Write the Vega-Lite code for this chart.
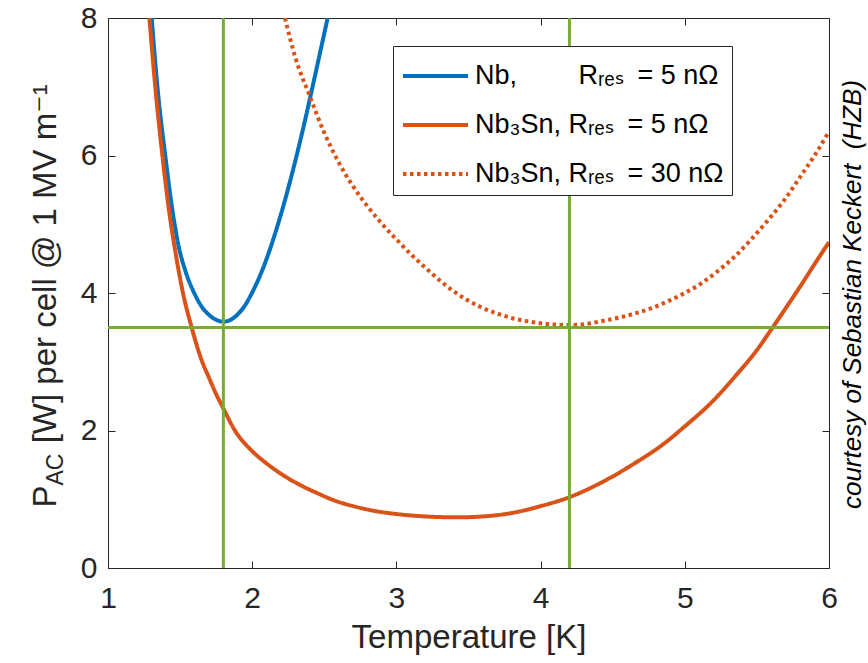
{
  "$schema": "https://vega.github.io/schema/vega-lite/v6.json",
  "width": 721,
  "height": 550,
  "autosize": {"type": "none"},
  "padding": {"left": 108, "top": 18, "right": 39, "bottom": 95},
  "background": "white",
  "config": {
    "font": "Liberation Sans, Arial, DejaVu Sans, sans-serif",
    "view": {"stroke": "#262626", "strokeWidth": 1},
    "axis": {"grid": false, "domain": false, "tickColor": "#262626", "tickSize": -7, "tickWidth": 1, "labelColor": "#262626", "titleColor": "#262626", "titleFontWeight": "normal", "labelFlush": false, "labelOverlap": false},
    "legend": {
      "orient": "none", "legendX": 285, "legendY": 28, "title": null,
      "symbolType": "M-1,0H2.25", "symbolSize": 1600, "symbolStrokeWidth": 4,
      "labelFontSize": 27, "labelColor": "#000000", "labelOffset": 30, "labelLimit": 500,
      "rowPadding": 14, "padding": 8, "strokeColor": "#262626", "fillColor": "white"
    }
  },
  "datasets": {
    "curves": [
      {"T": 1.303, "P": 8.0, "s": "Nb,\u2002\u2002\u2002\u2002 R\u1d63\u2091\u209b\u2009 = 5 n\u03a9"},
      {"T": 1.345, "P": 6.95, "s": "Nb,\u2002\u2002\u2002\u2002 R\u1d63\u2091\u209b\u2009 = 5 n\u03a9"},
      {"T": 1.40, "P": 5.95, "s": "Nb,\u2002\u2002\u2002\u2002 R\u1d63\u2091\u209b\u2009 = 5 n\u03a9"},
      {"T": 1.44, "P": 5.3, "s": "Nb,\u2002\u2002\u2002\u2002 R\u1d63\u2091\u209b\u2009 = 5 n\u03a9"},
      {"T": 1.486, "P": 4.72, "s": "Nb,\u2002\u2002\u2002\u2002 R\u1d63\u2091\u209b\u2009 = 5 n\u03a9"},
      {"T": 1.54, "P": 4.3, "s": "Nb,\u2002\u2002\u2002\u2002 R\u1d63\u2091\u209b\u2009 = 5 n\u03a9"},
      {"T": 1.60, "P": 3.99, "s": "Nb,\u2002\u2002\u2002\u2002 R\u1d63\u2091\u209b\u2009 = 5 n\u03a9"},
      {"T": 1.65, "P": 3.8, "s": "Nb,\u2002\u2002\u2002\u2002 R\u1d63\u2091\u209b\u2009 = 5 n\u03a9"},
      {"T": 1.707, "P": 3.67, "s": "Nb,\u2002\u2002\u2002\u2002 R\u1d63\u2091\u209b\u2009 = 5 n\u03a9"},
      {"T": 1.75, "P": 3.61, "s": "Nb,\u2002\u2002\u2002\u2002 R\u1d63\u2091\u209b\u2009 = 5 n\u03a9"},
      {"T": 1.80, "P": 3.583, "s": "Nb,\u2002\u2002\u2002\u2002 R\u1d63\u2091\u209b\u2009 = 5 n\u03a9"},
      {"T": 1.85, "P": 3.61, "s": "Nb,\u2002\u2002\u2002\u2002 R\u1d63\u2091\u209b\u2009 = 5 n\u03a9"},
      {"T": 1.892, "P": 3.675, "s": "Nb,\u2002\u2002\u2002\u2002 R\u1d63\u2091\u209b\u2009 = 5 n\u03a9"},
      {"T": 1.95, "P": 3.82, "s": "Nb,\u2002\u2002\u2002\u2002 R\u1d63\u2091\u209b\u2009 = 5 n\u03a9"},
      {"T": 1.997, "P": 3.996, "s": "Nb,\u2002\u2002\u2002\u2002 R\u1d63\u2091\u209b\u2009 = 5 n\u03a9"},
      {"T": 2.077, "P": 4.37, "s": "Nb,\u2002\u2002\u2002\u2002 R\u1d63\u2091\u209b\u2009 = 5 n\u03a9"},
      {"T": 2.17, "P": 4.94, "s": "Nb,\u2002\u2002\u2002\u2002 R\u1d63\u2091\u209b\u2009 = 5 n\u03a9"},
      {"T": 2.262, "P": 5.62, "s": "Nb,\u2002\u2002\u2002\u2002 R\u1d63\u2091\u209b\u2009 = 5 n\u03a9"},
      {"T": 2.354, "P": 6.40, "s": "Nb,\u2002\u2002\u2002\u2002 R\u1d63\u2091\u209b\u2009 = 5 n\u03a9"},
      {"T": 2.447, "P": 7.27, "s": "Nb,\u2002\u2002\u2002\u2002 R\u1d63\u2091\u209b\u2009 = 5 n\u03a9"},
      {"T": 2.523, "P": 8.0, "s": "Nb,\u2002\u2002\u2002\u2002 R\u1d63\u2091\u209b\u2009 = 5 n\u03a9"},

      {"T": 1.287, "P": 8.0, "s": "Nb\u2083Sn, R\u1d63\u2091\u209b\u2009 = 5 n\u03a9"},
      {"T": 1.33, "P": 6.95, "s": "Nb\u2083Sn, R\u1d63\u2091\u209b\u2009 = 5 n\u03a9"},
      {"T": 1.38, "P": 5.95, "s": "Nb\u2083Sn, R\u1d63\u2091\u209b\u2009 = 5 n\u03a9"},
      {"T": 1.42, "P": 5.25, "s": "Nb\u2083Sn, R\u1d63\u2091\u209b\u2009 = 5 n\u03a9"},
      {"T": 1.465, "P": 4.63, "s": "Nb\u2083Sn, R\u1d63\u2091\u209b\u2009 = 5 n\u03a9"},
      {"T": 1.52, "P": 4.0, "s": "Nb\u2083Sn, R\u1d63\u2091\u209b\u2009 = 5 n\u03a9"},
      {"T": 1.58, "P": 3.5, "s": "Nb\u2083Sn, R\u1d63\u2091\u209b\u2009 = 5 n\u03a9"},
      {"T": 1.65, "P": 3.02, "s": "Nb\u2083Sn, R\u1d63\u2091\u209b\u2009 = 5 n\u03a9"},
      {"T": 1.70, "P": 2.77, "s": "Nb\u2083Sn, R\u1d63\u2091\u209b\u2009 = 5 n\u03a9"},
      {"T": 1.75, "P": 2.53, "s": "Nb\u2083Sn, R\u1d63\u2091\u209b\u2009 = 5 n\u03a9"},
      {"T": 1.80, "P": 2.32, "s": "Nb\u2083Sn, R\u1d63\u2091\u209b\u2009 = 5 n\u03a9"},
      {"T": 1.88, "P": 2.0, "s": "Nb\u2083Sn, R\u1d63\u2091\u209b\u2009 = 5 n\u03a9"},
      {"T": 2.0, "P": 1.70, "s": "Nb\u2083Sn, R\u1d63\u2091\u209b\u2009 = 5 n\u03a9"},
      {"T": 2.1, "P": 1.52, "s": "Nb\u2083Sn, R\u1d63\u2091\u209b\u2009 = 5 n\u03a9"},
      {"T": 2.2, "P": 1.37, "s": "Nb\u2083Sn, R\u1d63\u2091\u209b\u2009 = 5 n\u03a9"},
      {"T": 2.33, "P": 1.21, "s": "Nb\u2083Sn, R\u1d63\u2091\u209b\u2009 = 5 n\u03a9"},
      {"T": 2.45, "P": 1.09, "s": "Nb\u2083Sn, R\u1d63\u2091\u209b\u2009 = 5 n\u03a9"},
      {"T": 2.56, "P": 0.99, "s": "Nb\u2083Sn, R\u1d63\u2091\u209b\u2009 = 5 n\u03a9"},
      {"T": 2.7, "P": 0.9, "s": "Nb\u2083Sn, R\u1d63\u2091\u209b\u2009 = 5 n\u03a9"},
      {"T": 2.85, "P": 0.83, "s": "Nb\u2083Sn, R\u1d63\u2091\u209b\u2009 = 5 n\u03a9"},
      {"T": 3.0, "P": 0.785, "s": "Nb\u2083Sn, R\u1d63\u2091\u209b\u2009 = 5 n\u03a9"},
      {"T": 3.2, "P": 0.75, "s": "Nb\u2083Sn, R\u1d63\u2091\u209b\u2009 = 5 n\u03a9"},
      {"T": 3.42, "P": 0.737, "s": "Nb\u2083Sn, R\u1d63\u2091\u209b\u2009 = 5 n\u03a9"},
      {"T": 3.6, "P": 0.75, "s": "Nb\u2083Sn, R\u1d63\u2091\u209b\u2009 = 5 n\u03a9"},
      {"T": 3.8, "P": 0.8, "s": "Nb\u2083Sn, R\u1d63\u2091\u209b\u2009 = 5 n\u03a9"},
      {"T": 4.0, "P": 0.9, "s": "Nb\u2083Sn, R\u1d63\u2091\u209b\u2009 = 5 n\u03a9"},
      {"T": 4.2, "P": 1.03, "s": "Nb\u2083Sn, R\u1d63\u2091\u209b\u2009 = 5 n\u03a9"},
      {"T": 4.4, "P": 1.22, "s": "Nb\u2083Sn, R\u1d63\u2091\u209b\u2009 = 5 n\u03a9"},
      {"T": 4.65, "P": 1.52, "s": "Nb\u2083Sn, R\u1d63\u2091\u209b\u2009 = 5 n\u03a9"},
      {"T": 4.85, "P": 1.8, "s": "Nb\u2083Sn, R\u1d63\u2091\u209b\u2009 = 5 n\u03a9"},
      {"T": 5.0, "P": 2.06, "s": "Nb\u2083Sn, R\u1d63\u2091\u209b\u2009 = 5 n\u03a9"},
      {"T": 5.2, "P": 2.44, "s": "Nb\u2083Sn, R\u1d63\u2091\u209b\u2009 = 5 n\u03a9"},
      {"T": 5.346, "P": 2.78, "s": "Nb\u2083Sn, R\u1d63\u2091\u209b\u2009 = 5 n\u03a9"},
      {"T": 5.5, "P": 3.17, "s": "Nb\u2083Sn, R\u1d63\u2091\u209b\u2009 = 5 n\u03a9"},
      {"T": 5.6, "P": 3.47, "s": "Nb\u2083Sn, R\u1d63\u2091\u209b\u2009 = 5 n\u03a9"},
      {"T": 5.7, "P": 3.78, "s": "Nb\u2083Sn, R\u1d63\u2091\u209b\u2009 = 5 n\u03a9"},
      {"T": 5.808, "P": 4.12, "s": "Nb\u2083Sn, R\u1d63\u2091\u209b\u2009 = 5 n\u03a9"},
      {"T": 5.9, "P": 4.42, "s": "Nb\u2083Sn, R\u1d63\u2091\u209b\u2009 = 5 n\u03a9"},
      {"T": 6.0, "P": 4.74, "s": "Nb\u2083Sn, R\u1d63\u2091\u209b\u2009 = 5 n\u03a9"},

      {"T": 2.227, "P": 8.0, "s": "Nb\u2083Sn, R\u1d63\u2091\u209b\u2009 = 30 n\u03a9"},
      {"T": 2.30, "P": 7.42, "s": "Nb\u2083Sn, R\u1d63\u2091\u209b\u2009 = 30 n\u03a9"},
      {"T": 2.40, "P": 6.86, "s": "Nb\u2083Sn, R\u1d63\u2091\u209b\u2009 = 30 n\u03a9"},
      {"T": 2.50, "P": 6.33, "s": "Nb\u2083Sn, R\u1d63\u2091\u209b\u2009 = 30 n\u03a9"},
      {"T": 2.60, "P": 5.9, "s": "Nb\u2083Sn, R\u1d63\u2091\u209b\u2009 = 30 n\u03a9"},
      {"T": 2.70, "P": 5.55, "s": "Nb\u2083Sn, R\u1d63\u2091\u209b\u2009 = 30 n\u03a9"},
      {"T": 2.80, "P": 5.26, "s": "Nb\u2083Sn, R\u1d63\u2091\u209b\u2009 = 30 n\u03a9"},
      {"T": 2.886, "P": 5.04, "s": "Nb\u2083Sn, R\u1d63\u2091\u209b\u2009 = 30 n\u03a9"},
      {"T": 3.0, "P": 4.78, "s": "Nb\u2083Sn, R\u1d63\u2091\u209b\u2009 = 30 n\u03a9"},
      {"T": 3.117, "P": 4.53, "s": "Nb\u2083Sn, R\u1d63\u2091\u209b\u2009 = 30 n\u03a9"},
      {"T": 3.2, "P": 4.37, "s": "Nb\u2083Sn, R\u1d63\u2091\u209b\u2009 = 30 n\u03a9"},
      {"T": 3.349, "P": 4.1, "s": "Nb\u2083Sn, R\u1d63\u2091\u209b\u2009 = 30 n\u03a9"},
      {"T": 3.45, "P": 3.95, "s": "Nb\u2083Sn, R\u1d63\u2091\u209b\u2009 = 30 n\u03a9"},
      {"T": 3.58, "P": 3.80, "s": "Nb\u2083Sn, R\u1d63\u2091\u209b\u2009 = 30 n\u03a9"},
      {"T": 3.7, "P": 3.70, "s": "Nb\u2083Sn, R\u1d63\u2091\u209b\u2009 = 30 n\u03a9"},
      {"T": 3.811, "P": 3.63, "s": "Nb\u2083Sn, R\u1d63\u2091\u209b\u2009 = 30 n\u03a9"},
      {"T": 3.92, "P": 3.585, "s": "Nb\u2083Sn, R\u1d63\u2091\u209b\u2009 = 30 n\u03a9"},
      {"T": 4.042, "P": 3.55, "s": "Nb\u2083Sn, R\u1d63\u2091\u209b\u2009 = 30 n\u03a9"},
      {"T": 4.204, "P": 3.535, "s": "Nb\u2083Sn, R\u1d63\u2091\u209b\u2009 = 30 n\u03a9"},
      {"T": 4.32, "P": 3.55, "s": "Nb\u2083Sn, R\u1d63\u2091\u209b\u2009 = 30 n\u03a9"},
      {"T": 4.42, "P": 3.59, "s": "Nb\u2083Sn, R\u1d63\u2091\u209b\u2009 = 30 n\u03a9"},
      {"T": 4.54, "P": 3.64, "s": "Nb\u2083Sn, R\u1d63\u2091\u209b\u2009 = 30 n\u03a9"},
      {"T": 4.65, "P": 3.70, "s": "Nb\u2083Sn, R\u1d63\u2091\u209b\u2009 = 30 n\u03a9"},
      {"T": 4.77, "P": 3.78, "s": "Nb\u2083Sn, R\u1d63\u2091\u209b\u2009 = 30 n\u03a9"},
      {"T": 4.883, "P": 3.88, "s": "Nb\u2083Sn, R\u1d63\u2091\u209b\u2009 = 30 n\u03a9"},
      {"T": 5.0, "P": 4.0, "s": "Nb\u2083Sn, R\u1d63\u2091\u209b\u2009 = 30 n\u03a9"},
      {"T": 5.114, "P": 4.14, "s": "Nb\u2083Sn, R\u1d63\u2091\u209b\u2009 = 30 n\u03a9"},
      {"T": 5.23, "P": 4.32, "s": "Nb\u2083Sn, R\u1d63\u2091\u209b\u2009 = 30 n\u03a9"},
      {"T": 5.346, "P": 4.53, "s": "Nb\u2083Sn, R\u1d63\u2091\u209b\u2009 = 30 n\u03a9"},
      {"T": 5.46, "P": 4.78, "s": "Nb\u2083Sn, R\u1d63\u2091\u209b\u2009 = 30 n\u03a9"},
      {"T": 5.577, "P": 5.06, "s": "Nb\u2083Sn, R\u1d63\u2091\u209b\u2009 = 30 n\u03a9"},
      {"T": 5.7, "P": 5.38, "s": "Nb\u2083Sn, R\u1d63\u2091\u209b\u2009 = 30 n\u03a9"},
      {"T": 5.81, "P": 5.72, "s": "Nb\u2083Sn, R\u1d63\u2091\u209b\u2009 = 30 n\u03a9"},
      {"T": 5.9, "P": 6.0, "s": "Nb\u2083Sn, R\u1d63\u2091\u209b\u2009 = 30 n\u03a9"},
      {"T": 6.0, "P": 6.35, "s": "Nb\u2083Sn, R\u1d63\u2091\u209b\u2009 = 30 n\u03a9"}
    ]
  },
  "layer": [
    {
      "data": {"name": "curves"},
      "mark": {"type": "line", "strokeWidth": 4, "clip": true, "interpolate": "monotone"},
      "encoding": {
        "x": {
          "field": "T", "type": "quantitative",
          "scale": {"domain": [1, 6], "nice": false, "zero": false},
          "axis": {"orient": "bottom", "values": [1, 2, 3, 4, 5, 6], "format": "d", "labelFontSize": 30, "labelPadding": 22,
                   "title": "Temperature [K]", "titleFontSize": 33, "titleX": 360.5, "titleY": 79, "titleAlign": "center", "titleBaseline": "alphabetic", "titleAngle": 0}
        },
        "y": {
          "field": "P", "type": "quantitative",
          "scale": {"domain": [0, 8], "nice": false, "zero": true},
          "axis": {"orient": "left", "values": [0, 2, 4, 6, 8], "format": "d", "labelFontSize": 30, "labelPadding": 18,
                   "title": "P\u2002\u2002 [W] per cell @ 1 MV m\u207b\u00b9", "titleFontSize": 33, "titleX": -53, "titleY": 489, "titleAngle": 270, "titleAlign": "left", "titleBaseline": "alphabetic"}
        },
        "color": {
          "field": "s", "type": "nominal",
          "scale": {"domain": ["Nb,\u2002\u2002\u2002\u2002 R\u1d63\u2091\u209b\u2009 = 5 n\u03a9", "Nb\u2083Sn, R\u1d63\u2091\u209b\u2009 = 5 n\u03a9", "Nb\u2083Sn, R\u1d63\u2091\u209b\u2009 = 30 n\u03a9"], "range": ["#0072BD", "#D95319", "#D95319"]}
        },
        "strokeDash": {
          "field": "s", "type": "nominal",
          "scale": {"domain": ["Nb,\u2002\u2002\u2002\u2002 R\u1d63\u2091\u209b\u2009 = 5 n\u03a9", "Nb\u2083Sn, R\u1d63\u2091\u209b\u2009 = 5 n\u03a9", "Nb\u2083Sn, R\u1d63\u2091\u209b\u2009 = 30 n\u03a9"], "range": [[1, 0], [1, 0], [3.5, 3.5]]}
        }
      }
    },
    {
      "data": {"values": [{"T": 1.8}, {"T": 4.2}]},
      "mark": {"type": "rule", "color": "#77AC30", "strokeWidth": 3},
      "encoding": {
        "x": {
          "field": "T", "type": "quantitative",
          "scale": {"domain": [1, 6], "nice": false, "zero": false},
          "axis": {"orient": "top", "values": [1, 2, 3, 4, 5, 6], "labels": false,
                   "title": "AC", "titleFontSize": 23, "titleX": -46, "titleY": 467, "titleAngle": 270, "titleAlign": "left", "titleBaseline": "alphabetic"}
        }
      }
    },
    {
      "data": {"values": [{"P": 3.5}]},
      "mark": {"type": "rule", "color": "#77AC30", "strokeWidth": 3},
      "encoding": {
        "y": {
          "field": "P", "type": "quantitative",
          "scale": {"domain": [0, 8], "nice": false, "zero": true},
          "axis": {"orient": "right", "values": [0, 2, 4, 6, 8], "labels": false,
                   "title": "courtesy of Sebastian Keckert\u00a0 (HZB)", "titleFontSize": 26, "titleFontStyle": "italic", "titleColor": "#000000", "titleX": 31, "titleY": 276, "titleAngle": 270, "titleAlign": "center", "titleBaseline": "alphabetic"}
        }
      }
    }
  ],
  "resolve": {"axis": {"x": "independent", "y": "independent"}}
}
